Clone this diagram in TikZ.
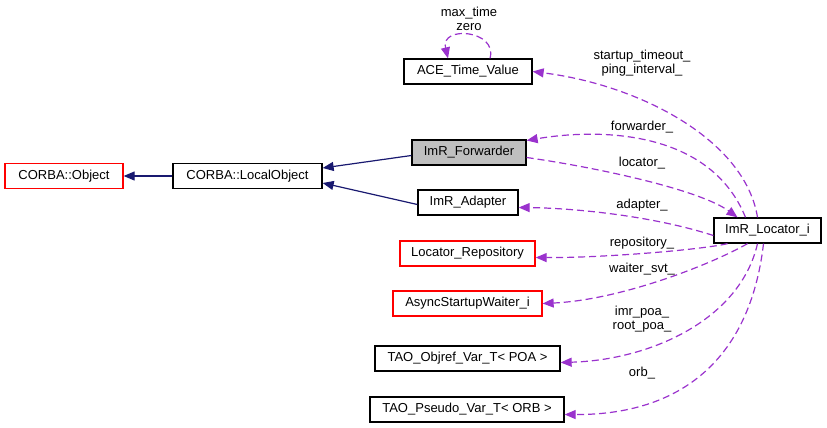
\documentclass[tikz,border=0pt]{standalone}
\usepackage{fontspec}
\setmainfont{Liberation Sans}
\usetikzlibrary{arrows.meta}
\definecolor{usecol}{HTML}{9A32CD}
\definecolor{inhcol}{HTML}{191970}
\definecolor{fwdfill}{HTML}{BFBFBF}
\begin{document}
\begin{tikzpicture}[x=1pt,y=-1pt,
  every node/.style={font=\fontsize{13}{14}\selectfont},
  cls/.style={draw=black,line width=1.3pt,rectangle,inner sep=0pt,minimum height=25pt,fill=white},
  redcls/.style={cls,draw=red},
  inh/.style={draw=inhcol,line width=1.2pt,-{Triangle[length=11pt,width=9pt]}},
  use/.style={draw=usecol,line width=1.2pt,dash pattern=on 7pt off 4pt,-{Triangle[length=11pt,width=9pt]}},
  lbl/.style={inner sep=0pt,align=center}]
\useasboundingbox (0,0) rectangle (827,428);
% classes
\node[redcls,minimum width=118pt] (obj) at (64,176) {CORBA::Object};
\node[cls,minimum width=149pt] (lobj) at (247.5,176) {CORBA::LocalObject};
\node[cls,minimum width=114pt,fill=fwdfill] (fwd) at (469,152.5) {ImR\_Forwarder};
\node[cls,minimum width=100pt] (adp) at (468,202.5) {ImR\_Adapter};
\node[cls,minimum width=128pt] (ace) at (468,71.5) {ACE\_Time\_Value};
\node[cls,minimum width=107pt] (loc) at (767.5,230.5) {ImR\_Locator\_i};
\node[redcls,minimum width=135pt] (rep) at (467.5,253.5) {Locator\_Repository};
\node[redcls,minimum width=149pt] (asw) at (467.5,303.5) {AsyncStartupWaiter\_i};
\node[cls,minimum width=185pt] (poa) at (467.5,358.5) {TAO\_Objref\_Var\_T< POA >};
\node[cls,minimum width=194pt] (orb) at (467,409.5) {TAO\_Pseudo\_Var\_T< ORB >};
% inheritance
\draw[inh] (lobj.west) -- (obj.east);
\draw[inh] ([yshift=-3pt]fwd.west) -- ([yshift=8pt]lobj.east);
\draw[inh] ([yshift=-2pt]adp.west) -- ([yshift=-7pt]lobj.east);
% usage
\draw[use] ([xshift=22pt]ace.north) .. controls (498,30) and (440,25) .. ([xshift=-20pt]ace.north);
\draw[use] ([xshift=-10pt]loc.north) .. controls (745,140) and (640,85) .. (ace.east);
\draw[use] ([xshift=-22pt]loc.north) .. controls (710,130) and (600,128) .. ([yshift=12pt]fwd.east);
\draw[use] ([yshift=-5pt]fwd.east) .. controls (600,168) and (700,190) .. ([xshift=-30pt]loc.north);
\draw[use] ([yshift=-5pt]loc.west) .. controls (650,215) and (570,208) .. ([yshift=-5pt]adp.east);
\draw[use] ([xshift=-40pt]loc.south) .. controls (700,250) and (600,258) .. ([yshift=-4pt]rep.east);
\draw[use] ([xshift=-20pt]loc.south) .. controls (710,265) and (620,300) .. (asw.east);
\draw[use] ([xshift=-10pt]loc.south) .. controls (740,320) and (650,360) .. ([yshift=-4pt]poa.east);
\draw[use] ([xshift=-4pt]loc.south) .. controls (750,360) and (680,415) .. ([yshift=-5pt]orb.east);
% labels
\node[lbl] (l1) at (469,19) {max\_time\\zero};
\node[lbl] (l2) at (642,63.5) {startup\_timeout\_\\ping\_interval\_};
\node[lbl] (l3) at (642,127) {forwarder\_};
\node[lbl] (l4) at (642,163) {locator\_};
\node[lbl] (l5) at (642,205) {adapter\_};
\node[lbl] (l6) at (642,243) {repository\_};
\node[lbl] (l7) at (642,269) {waiter\_svt\_};
\node[lbl] (l8) at (642,319) {imr\_poa\_\\root\_poa\_};
\node[lbl] (l9) at (642,373) {orb\_};
\end{tikzpicture}
\end{document}
